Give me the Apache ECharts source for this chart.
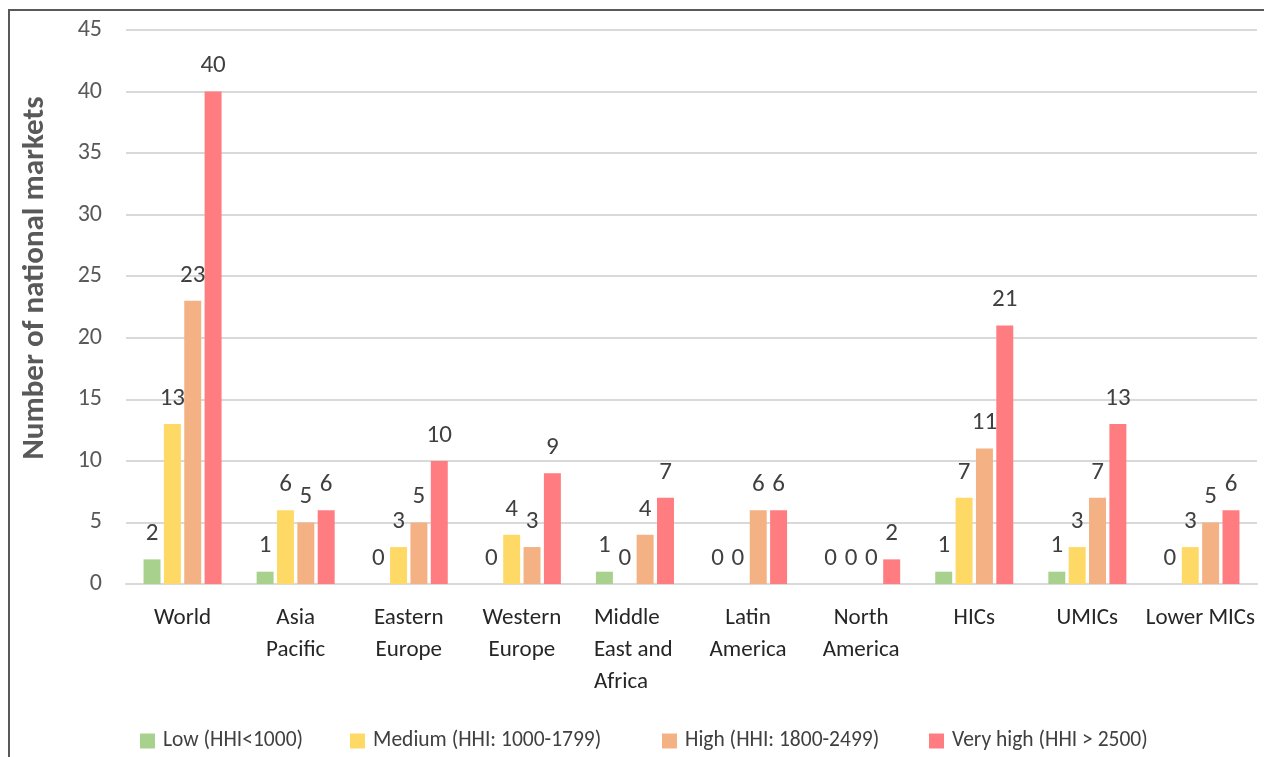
<!DOCTYPE html>
<html><head><meta charset="utf-8">
<script src="https://cdn.jsdelivr.net/npm/echarts@6/dist/echarts.min.js"></script>
<style>html,body{margin:0;padding:0;background:#fff}#c{width:1264px;height:757px}</style>
</head><body><div id="c"></div>
<script>
const categories = ['World','Asia\nPacific','Eastern\nEurope','Western\nEurope','Middle\nEast and\nAfrica','Latin\nAmerica','North\nAmerica','HICs','UMICs','Lower MICs'];
const seriesNames = ['Low (HHI<1000)','Medium (HHI: 1000-1799)','High (HHI: 1800-2499)','Very high (HHI > 2500)'];
const low      = [2,1,0,0,1,0,0,1,1,0];
const medium   = [13,6,3,4,0,0,0,7,3,3];
const high     = [23,5,5,3,4,6,0,11,7,5];
const veryHigh = [40,6,10,9,7,6,2,21,13,6];
const colors = ['#a9d18e','#ffd966','#f4b183','#ff7c80'];
const legendLefts = [140, 350, 662, 929];
const FONT = 'Carlito, Lato';
const chart = echarts.init(document.getElementById('c'));
const mk = (name, data, i) => ({
  name, type:'bar', data,
  barGap:'20%', barCategoryGap:'31%',
  itemStyle:{color:colors[i]},
  label:{show:true, position:'top', distance:13, color:'#404040', fontSize:25, fontFamily:FONT},
  animation:false
});
chart.setOption({
  animation:false,
  textStyle:{fontFamily:FONT},
  grid:{left:126, right:7, top:30, bottom:173, containLabel:false},
  legend: seriesNames.map((n, i) => ({
    top:730, left:legendLefts[i], itemWidth:15, itemHeight:15, icon:'rect', padding:0,
    textStyle:{fontSize:21.5, color:'#404040', fontFamily:FONT, padding:[0,0,0,3]},
    data:[n]
  })),
  xAxis:{type:'category', data:categories,
    axisLine:{lineStyle:{color:'#d9d9d9', width:2}}, axisTick:{show:false},
    axisLabel:{color:'#262626', fontSize:23, lineHeight:32, margin:18, fontFamily:FONT, interval:0,
      formatter:function(v){
        if (v.indexOf('Middle')===0) return v.split('\n').map(s=>'{l|'+s+'}').join('\n');
        return v;
      },
      rich:{l:{width:82, align:'left', fontSize:23, lineHeight:32, color:'#262626', fontFamily:FONT}}
    }},
  yAxis:{type:'value', min:0, max:45, interval:5,
    axisLine:{show:false}, axisTick:{show:false},
    splitLine:{lineStyle:{color:'#d9d9d9', width:2}},
    axisLabel:{color:'#595959', fontSize:24, margin:24, fontFamily:FONT}},
  graphic:[
    {type:'rect', shape:{x:9,y:10,width:1400,height:900}, style:{fill:'none', stroke:'#595959', lineWidth:2}, silent:true},
    {type:'text', x:35, y:278, rotation:Math.PI/2, style:{text:'Number of national markets', fill:'#595959', font:'bold 31px '+FONT, textAlign:'center', textVerticalAlign:'middle'}}
  ],
  series:[mk(seriesNames[0],low,0), mk(seriesNames[1],medium,1), mk(seriesNames[2],high,2), mk(seriesNames[3],veryHigh,3)]
});
</script></body></html>
